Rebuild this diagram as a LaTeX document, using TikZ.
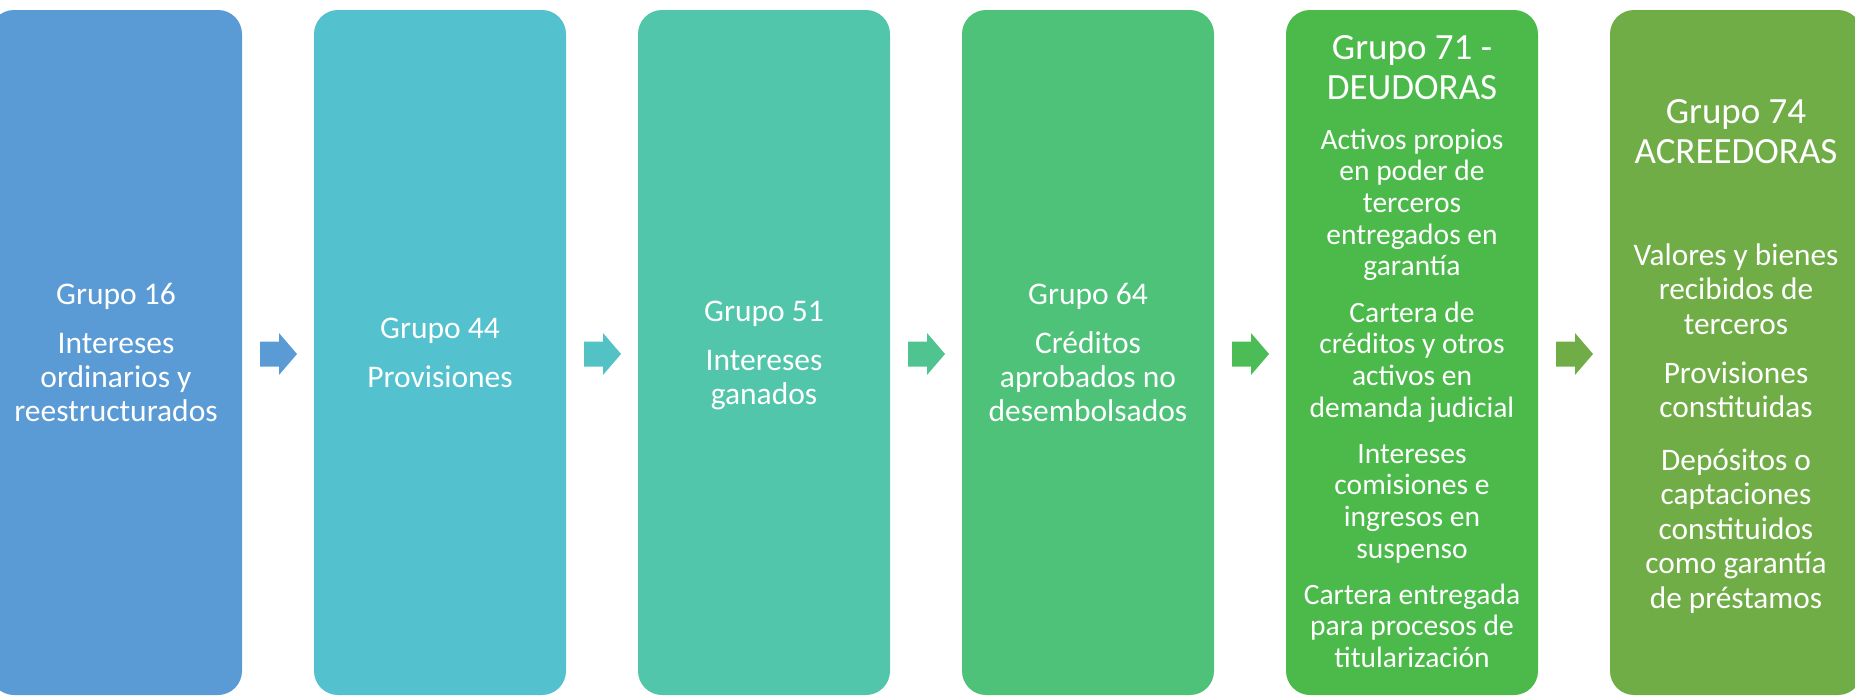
\documentclass[tikz,border=0pt]{standalone}
\usepackage{fontspec}
\setmainfont{Carlito}
\usetikzlibrary{calc}
\definecolor{cA}{HTML}{5B9BD5}
\definecolor{cB}{HTML}{53C1CE}
\definecolor{cC}{HTML}{51C6AA}
\definecolor{cD}{HTML}{4DC278}
\definecolor{cE}{HTML}{4BBA4B}
\definecolor{cF}{HTML}{70AD47}
\colorlet{aA}{cA}
\colorlet{aB}{cB!75!cC}
\colorlet{aC}{cC!50!cD}
\colorlet{aD}{cD!25!cE}
\colorlet{aE}{cF}
\tikzset{
  card/.style={rectangle, rounded corners=24pt, minimum width=252pt, minimum height=685pt, inner sep=0pt, draw=none},
  para/.style={text=white, align=flush center, text width=250pt, inner sep=0pt, anchor=base},
  fbody/.style={font=\fontsize{31.5}{34}\selectfont},
  ftitle/.style={font=\fontsize{37}{40.7}\selectfont},
  fsmall/.style={font=\fontsize{29.5}{31.7}\selectfont},
  fsix/.style={font=\fontsize{31.3}{34.5}\selectfont},
  blockarrow/.style={draw=none}
}
\begin{document}
\begin{tikzpicture}[x=1pt,y=-1pt]
\useasboundingbox (0,0) rectangle (1855,696);
\clip (0,0) rectangle (1855,696);
% boxes
\node[card, fill=cA] (b1) at (116,352.5) {};
\node[card, fill=cB] (b2) at (440,352.5) {};
\node[card, fill=cC] (b3) at (764,352.5) {};
\node[card, fill=cD] (b4) at (1088,352.5) {};
\node[card, fill=cE] (b5) at (1412,352.5) {};
\node[card, fill=cF] (b6) at (1736,352.5) {};
% arrows
\foreach \l/\r/\c in {b1/b2/aA, b2/b3/aB, b3/b4/aC, b4/b5/aD, b5/b6/aE}{
  \coordinate (m\l) at ($(\l.east)!0.5!(\r.west)+(0,1.5)$);
  \fill[\c, blockarrow] ($(m\l)+(-18,-12.5)$) -- ($(m\l)+(1,-12.5)$) -- ($(m\l)+(1,-21)$)
     -- ($(m\l)+(19,0)$) -- ($(m\l)+(1,21)$) -- ($(m\l)+(1,12.5)$) -- ($(m\l)+(-18,12.5)$) -- cycle;
}
% box 1
\node[para, fbody] (t1) at (116,304) {Grupo 16};
\node[para, fbody] (p1) at (116,353) {Intereses\\ordinarios y\\reestructurados};
% box 2
\node[para, fbody] (t2) at (440,338) {Grupo 44};
\node[para, fbody] (p2) at (440,387) {Provisiones};
% box 3
\node[para, fbody] (t3) at (764,321) {Grupo 51};
\node[para, fbody] (p3) at (764,370) {Intereses\\ganados};
% box 4
\node[para, fbody] (t4) at (1088,304) {Grupo 64};
\node[para, fbody] (p4) at (1088,353) {Créditos\\aprobados no\\desembolsados};
% box 5
\node[para, ftitle] (t5) at (1412,59) {Grupo 71 -\\DEUDORAS};
\node[para, fsmall] (p5a) at (1412,149) {Activos propios\\en poder de\\terceros\\entregados en\\garantía};
\node[para, fsmall] (p5b) at (1412,322) {Cartera de\\créditos y otros\\activos en\\demanda judicial};
\node[para, fsmall] (p5c) at (1412,463) {Intereses\\comisiones e\\ingresos en\\suspenso};
\node[para, fsmall] (p5d) at (1412,604) {Cartera entregada\\para procesos de\\titularización};
% box 6
\node[para, ftitle] (t6) at (1736,123) {Grupo 74\\ACREEDORAS};
\node[para, fsix] (p6a) at (1736,265) {Valores y bienes\\recibidos de\\terceros};
\node[para, fsix] (p6b) at (1736,383) {Provisiones\\constituidas};
\node[para, fsix] (p6c) at (1736,470) {Depósitos o\\captaciones\\constituidos\\como garantía\\de préstamos};
\end{tikzpicture}
\end{document}
